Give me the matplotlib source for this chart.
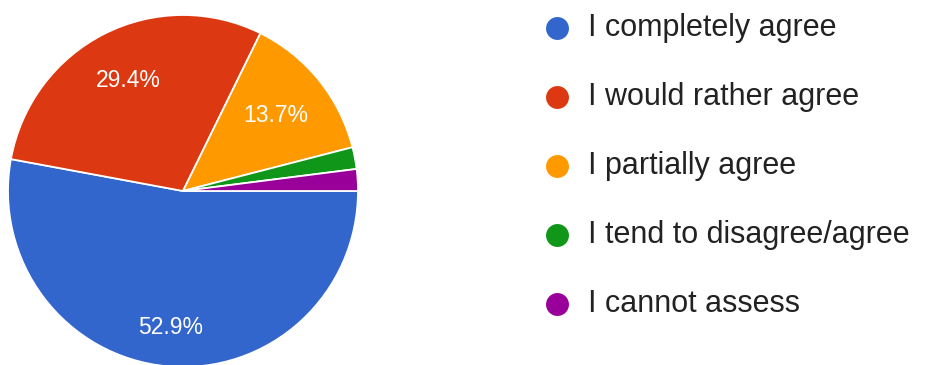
import numpy as np
import matplotlib.pyplot as plt

# survey answers (share of responses, %)
answers = ["I completely agree", "I would rather agree", "I partially agree",
           "I tend to disagree/agree", "I cannot assess"]
shares = [52.9, 29.4, 13.7, 2.0, 2.0]
colors = ["#3366CC", "#DC3912", "#FF9900", "#109618", "#990099"]

# radial position of the % labels, per wedge (only the big ones get a label)
label_r = [0.78, 0.70, 0.68, None, None]

plt.rcParams['font.family'] = ['Liberation Sans', 'DejaVu Sans']

fig = plt.figure(figsize=(9.3, 3.65), dpi=100)

# pie axes, square box in pixels
W, H = 930, 365
ax = fig.add_axes([8 / W, -2 / H, 350 / W, 352 / H])
wedges, _ = ax.pie(shares, colors=colors, startangle=0, counterclock=False,
                   radius=1.0,
                   wedgeprops=dict(edgecolor="white", linewidth=1.3))
ax.set_xlim(-1, 1)
ax.set_ylim(-1, 1)
ax.set_aspect("auto")
ax.axis("off")

for w, val, r in zip(wedges, shares, label_r):
    if r is None:
        continue
    mid = np.deg2rad((w.theta1 + w.theta2) / 2)
    ax.text(r * np.cos(mid), r * np.sin(mid), f"{val:.1f}%",
            ha="center", va="center", color="white", fontsize=16.5)

# legend drawn as its own column of dots and labels
leg = fig.add_axes([0, 0, 1, 1], facecolor="none")
leg.set_xlim(0, W)
leg.set_ylim(H, 0)
leg.axis("off")
row0, step = 28, 69
for i, (name, c) in enumerate(zip(answers, colors)):
    y = row0 + i * step
    leg.plot(557, y, "o", color=c, markersize=16.5, markeredgewidth=0)
    leg.text(588, y, name, ha="left", va="center", color="#222222", fontsize=22)

fig.savefig("out.png", dpi=100)
